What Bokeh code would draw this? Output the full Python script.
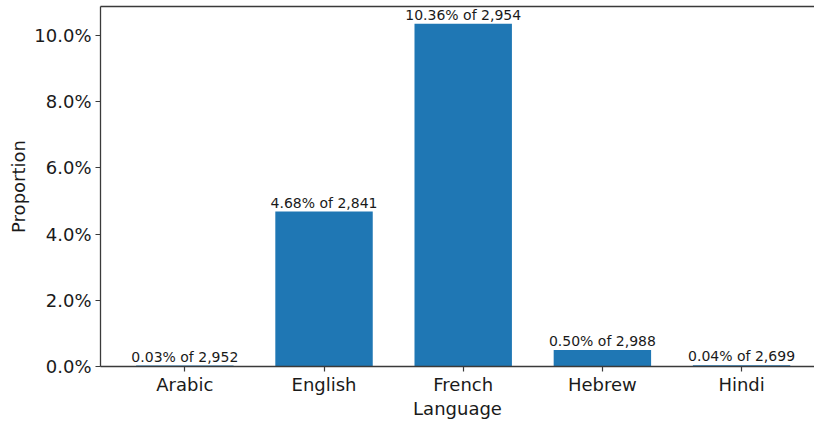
from bokeh.plotting import figure
from bokeh.models import Range1d, FixedTicker, NumeralTickFormatter, ColumnDataSource, LinearAxis
from bokeh.core.properties import value
from bokeh.embed import file_html
from bokeh.resources import INLINE

languages = ["Arabic", "English", "French", "Hebrew", "Hindi"]
proportions = [0.0003, 0.0468, 0.1036, 0.0050, 0.0004]
totals = [2952, 2841, 2954, 2988, 2699]

xs = list(range(len(languages)))
labels = [f"{p*100:.2f}% of {n:,}" for p, n in zip(proportions, totals)]
src = ColumnDataSource(dict(x=xs, top=proportions, label=labels))

FONT = "DejaVu Sans"
TXT = "#1a1a1a"
EDGE = "#3a3a3a"

p = figure(width=814, height=421, output_backend="svg", toolbar_location=None,
           x_range=Range1d(-0.606, 4.524), y_range=Range1d(0, 0.10878),
           min_border_left=100, min_border_right=0, min_border_top=6, min_border_bottom=55)

p.vbar(x="x", top="top", width=0.7, bottom=0, source=src, fill_color="#1f77b4", line_color=None)
p.text(x="x", y="top", text="label", source=src, text_align="center", text_baseline="bottom",
       y_offset=-1, text_font=value(FONT), text_font_size="14px", text_color=TXT)

p.xgrid.visible = False
p.ygrid.visible = False
p.outline_line_color = None

top_axis = LinearAxis(ticker=FixedTicker(ticks=[], minor_ticks=[]),
                      major_tick_out=0, major_tick_in=0, minor_tick_out=0, minor_tick_in=0,
                      major_label_standoff=0,
                      axis_line_color=EDGE, axis_line_width=1.3)
p.add_layout(top_axis, "above")

xaxis = p.below[0]
yaxis = p.left[0]
xaxis.ticker = FixedTicker(ticks=xs)
xaxis.major_label_overrides = {i: name for i, name in enumerate(languages)}
yaxis.ticker = FixedTicker(ticks=[0, 0.02, 0.04, 0.06, 0.08, 0.10])
yaxis.formatter = NumeralTickFormatter(format="0.0%")
xaxis.axis_label = "Language"
yaxis.axis_label = "Proportion"

for ax in (xaxis, yaxis):
    ax.minor_tick_line_color = None
    ax.major_tick_in = 0
    ax.major_tick_out = 5
    ax.major_tick_line_color = EDGE
    ax.major_tick_line_width = 1.2
    ax.axis_line_color = EDGE
    ax.axis_line_width = 1.3
    ax.major_label_text_font = FONT
    ax.major_label_text_font_size = "18px"
    ax.major_label_text_color = TXT
    ax.axis_label_text_font = FONT
    ax.axis_label_text_font_size = "18px"
    ax.axis_label_text_font_style = "normal"
    ax.axis_label_text_color = TXT
    ax.major_label_standoff = 4

xaxis.major_label_standoff = 2
xaxis.axis_label_standoff = 0
yaxis.axis_label_standoff = 2

open("out.html", "w").write(file_html(p, INLINE))
